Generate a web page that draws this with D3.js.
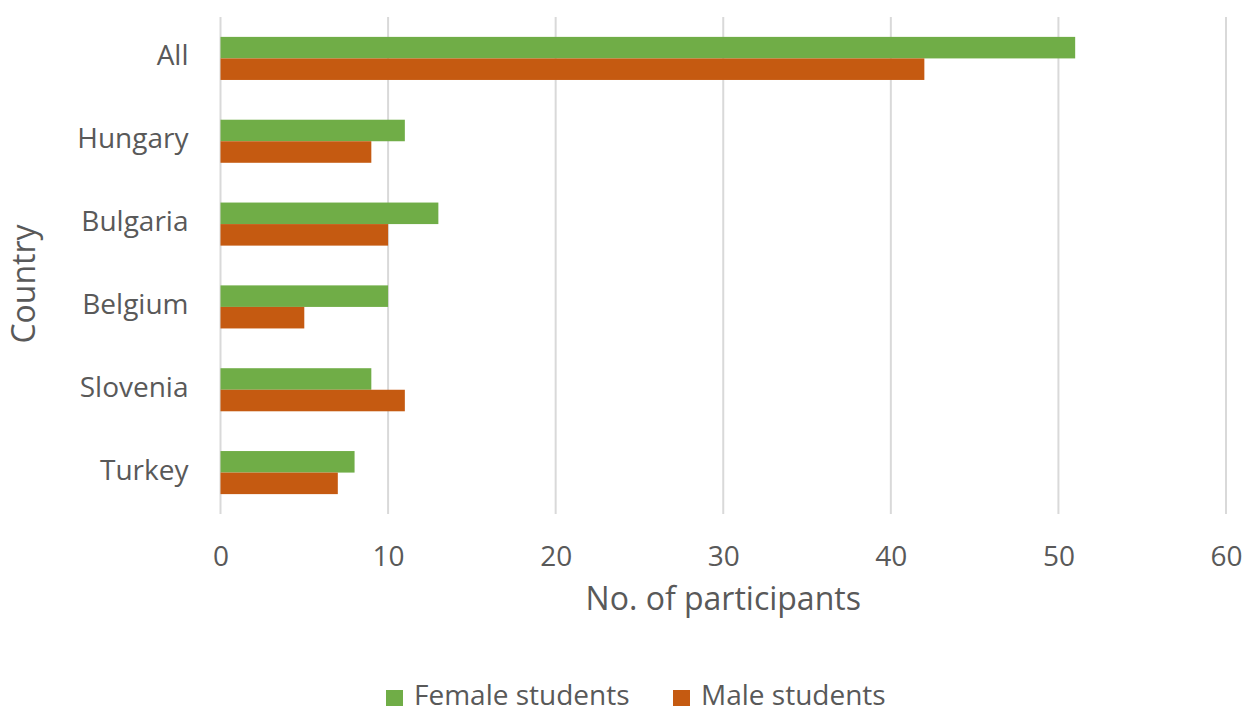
<!DOCTYPE html>
<html>
<head>
<meta charset="utf-8">
<script src="https://cdn.jsdelivr.net/npm/d3@7"></script>
<style>
  html, body { margin: 0; padding: 0; background: #fff; }
  svg text { font-family: "Open Sans", "Noto Sans", sans-serif; fill: #595959; }
</style>
</head>
<body>
<svg id="chart" width="1242" height="714"></svg>
<script>
// Participants per country, split by gender
const countries = ["All", "Hungary", "Bulgaria", "Belgium", "Slovenia", "Turkey"];
const femaleStudents = [51, 11, 13, 10, 9, 8];
const maleStudents = [42, 9, 10, 5, 11, 7];
const seriesNames = ["Female students", "Male students"];
const seriesColors = ["#70AD47", "#C55A11"];
const xTicks = [0, 10, 20, 30, 40, 50, 60];

const svg = d3.select("#chart");
const plot = { left: 220.5, right: 1226, top: 17, bottom: 514 };

const x = d3.scaleLinear().domain([0, 60]).range([plot.left, plot.right]);
const y = d3.scaleBand().domain(countries).range([plot.top, plot.bottom]).paddingInner(0.48).paddingOuter(0.24);
const sub = d3.scaleBand().domain(seriesNames).range([0, y.bandwidth()]);

// vertical gridlines
svg.append("g")
  .selectAll("line")
  .data(xTicks)
  .join("line")
  .attr("x1", d => x(d)).attr("x2", d => x(d))
  .attr("y1", plot.top).attr("y2", plot.bottom)
  .attr("stroke", "#d9d9d9").attr("stroke-width", 2);

// bars
const rows = countries.map((c, i) => ({ country: c, values: [femaleStudents[i], maleStudents[i]] }));
const groups = svg.append("g").selectAll("g")
  .data(rows)
  .join("g")
  .attr("transform", d => `translate(0,${y(d.country)})`);

groups.selectAll("rect")
  .data(d => d.values.map((v, k) => ({ v, k })))
  .join("rect")
  .attr("x", x(0))
  .attr("y", d => sub(seriesNames[d.k]))
  .attr("width", d => x(d.v) - x(0))
  .attr("height", sub.bandwidth())
  .attr("fill", d => seriesColors[d.k]);

// x axis tick labels
const xAxis = d3.axisBottom(x).tickValues(xTicks).tickSize(0).tickPadding(0);
const gx = svg.append("g").attr("transform", `translate(0,${plot.bottom})`).call(xAxis);
gx.select(".domain").remove();
gx.selectAll("text")
  .attr("dy", null).attr("y", 52)
  .style("font-size", "28px").attr("fill", "#595959");

// y axis category labels
const yAxis = d3.axisLeft(y).tickSize(0).tickPadding(0);
const gy = svg.append("g").attr("transform", `translate(${plot.left - 32},0)`).call(yAxis);
gy.select(".domain").remove();
gy.selectAll("text")
  .attr("dy", "0.25em")
  .style("font-size", "28px").attr("fill", "#595959");

// axis titles
svg.append("text")
  .attr("x", (plot.left + plot.right) / 2).attr("y", 610)
  .attr("text-anchor", "middle")
  .style("font-size", "32px")
  .text("No. of participants");

svg.append("text")
  .attr("transform", "translate(35,284) rotate(-90)")
  .attr("text-anchor", "middle")
  .style("font-size", "32px")
  .text("Country");

// legend
const legendItems = [
  { name: seriesNames[0], color: seriesColors[0], x: 386 },
  { name: seriesNames[1], color: seriesColors[1], x: 673 }
];
const lg = svg.append("g").selectAll("g").data(legendItems).join("g")
  .attr("transform", d => `translate(${d.x},690)`);
lg.append("rect").attr("width", 17).attr("height", 16).attr("fill", d => d.color);
lg.append("text").attr("x", 28).attr("y", 15).style("font-size", "28px").text(d => d.name);
</script>
</body>
</html>
